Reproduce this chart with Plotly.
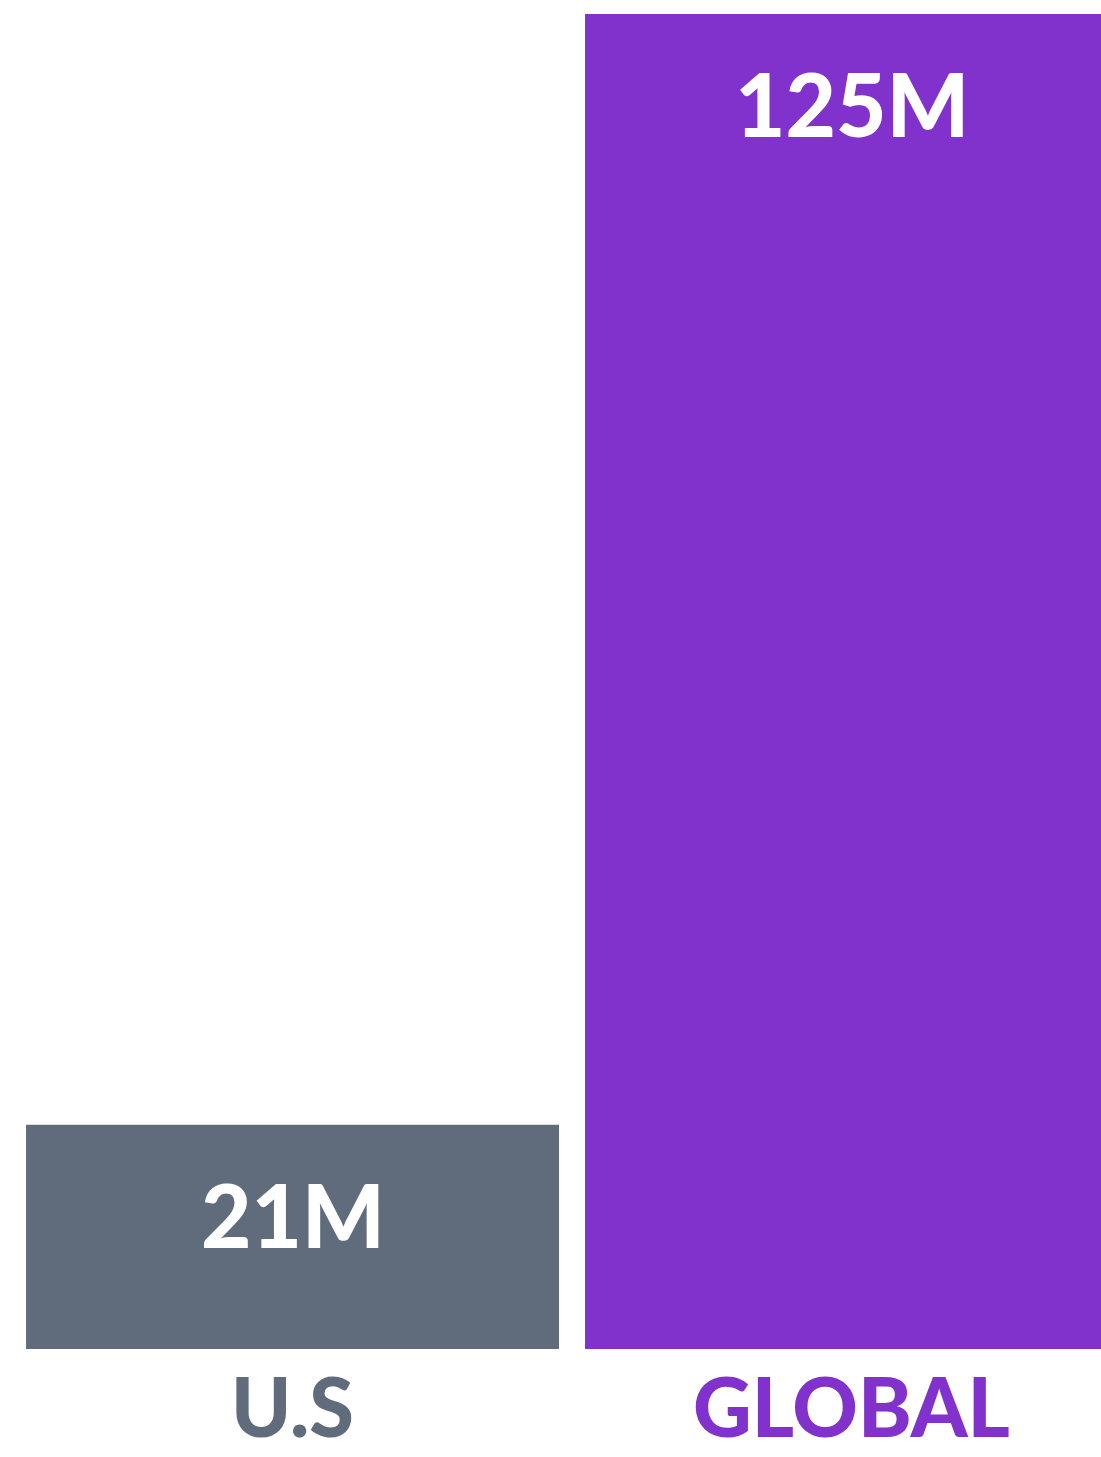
import plotly.graph_objects as go

categories = ["U.S", "GLOBAL"]
values = [21, 125]
value_labels = [f"{v}M" for v in values]
colors = ["#606b7c", "#8132cc"]

xs = list(range(len(categories)))

fig = go.Figure()
fig.add_trace(go.Bar(
    x=xs, y=values, width=0.9535,
    marker=dict(color=colors, line=dict(width=0)),
    hoverinfo="skip",
))

for x, v, lab, col, cat in zip(xs, values, value_labels, colors, categories):
    fig.add_annotation(x=x, y=v, text=lab, showarrow=False,
                       yanchor="middle", yshift=-90,
                       font=dict(family="Lato", size=87, color="white", weight=900))
    fig.add_annotation(x=x, y=0, text=cat, showarrow=False,
                       yanchor="middle", yshift=-56,
                       font=dict(family="Lato", size=81, color=col, weight=900))

fig.update_layout(
    width=1101, height=1457,
    margin=dict(l=0, r=0, t=0, b=108),
    paper_bgcolor="white", plot_bgcolor="white",
    showlegend=False,
    xaxis=dict(range=[-0.5233, 1.4463], visible=False, fixedrange=True),
    yaxis=dict(range=[0, 126.31], visible=False, fixedrange=True),
)

fig.write_html("out.html")
